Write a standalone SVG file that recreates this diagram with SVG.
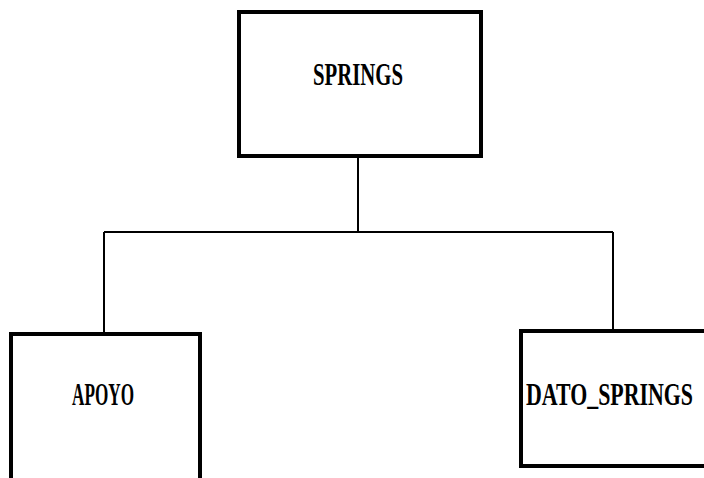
<svg xmlns="http://www.w3.org/2000/svg" width="704" height="478" viewBox="0 0 704 478">
<style>
.box{fill:#fff;stroke:#000;stroke-width:4}
.lbl{font-family:"Liberation Serif","DejaVu Serif",serif;font-weight:bold;font-size:31px;fill:#000}
.con{fill:none;stroke:#000;stroke-width:2}
</style>
<rect width="704" height="478" fill="#fff"/>
<g id="connectors">
<path class="con" d="M358 158 V232"/>
<path class="con" d="M104 232 H613"/>
<path class="con" d="M104 232 V334"/>
<path class="con" d="M613 232 V331"/>
</g>
<g id="springs">
<rect class="box" x="239" y="12" width="242" height="144"/>
<text class="lbl" x="313" y="85" textLength="90" lengthAdjust="spacingAndGlyphs">SPRINGS</text>
</g>
<g id="apoyo">
<rect class="box" x="11" y="334" width="189" height="160"/>
<text class="lbl" x="72" y="405" textLength="62" lengthAdjust="spacingAndGlyphs">APOYO</text>
</g>
<g id="dato_springs">
<rect class="box" x="521" y="331" width="200" height="135"/>
<text class="lbl" x="526" y="405" textLength="167" lengthAdjust="spacingAndGlyphs">DATO_SPRINGS</text>
</g>
</svg>
